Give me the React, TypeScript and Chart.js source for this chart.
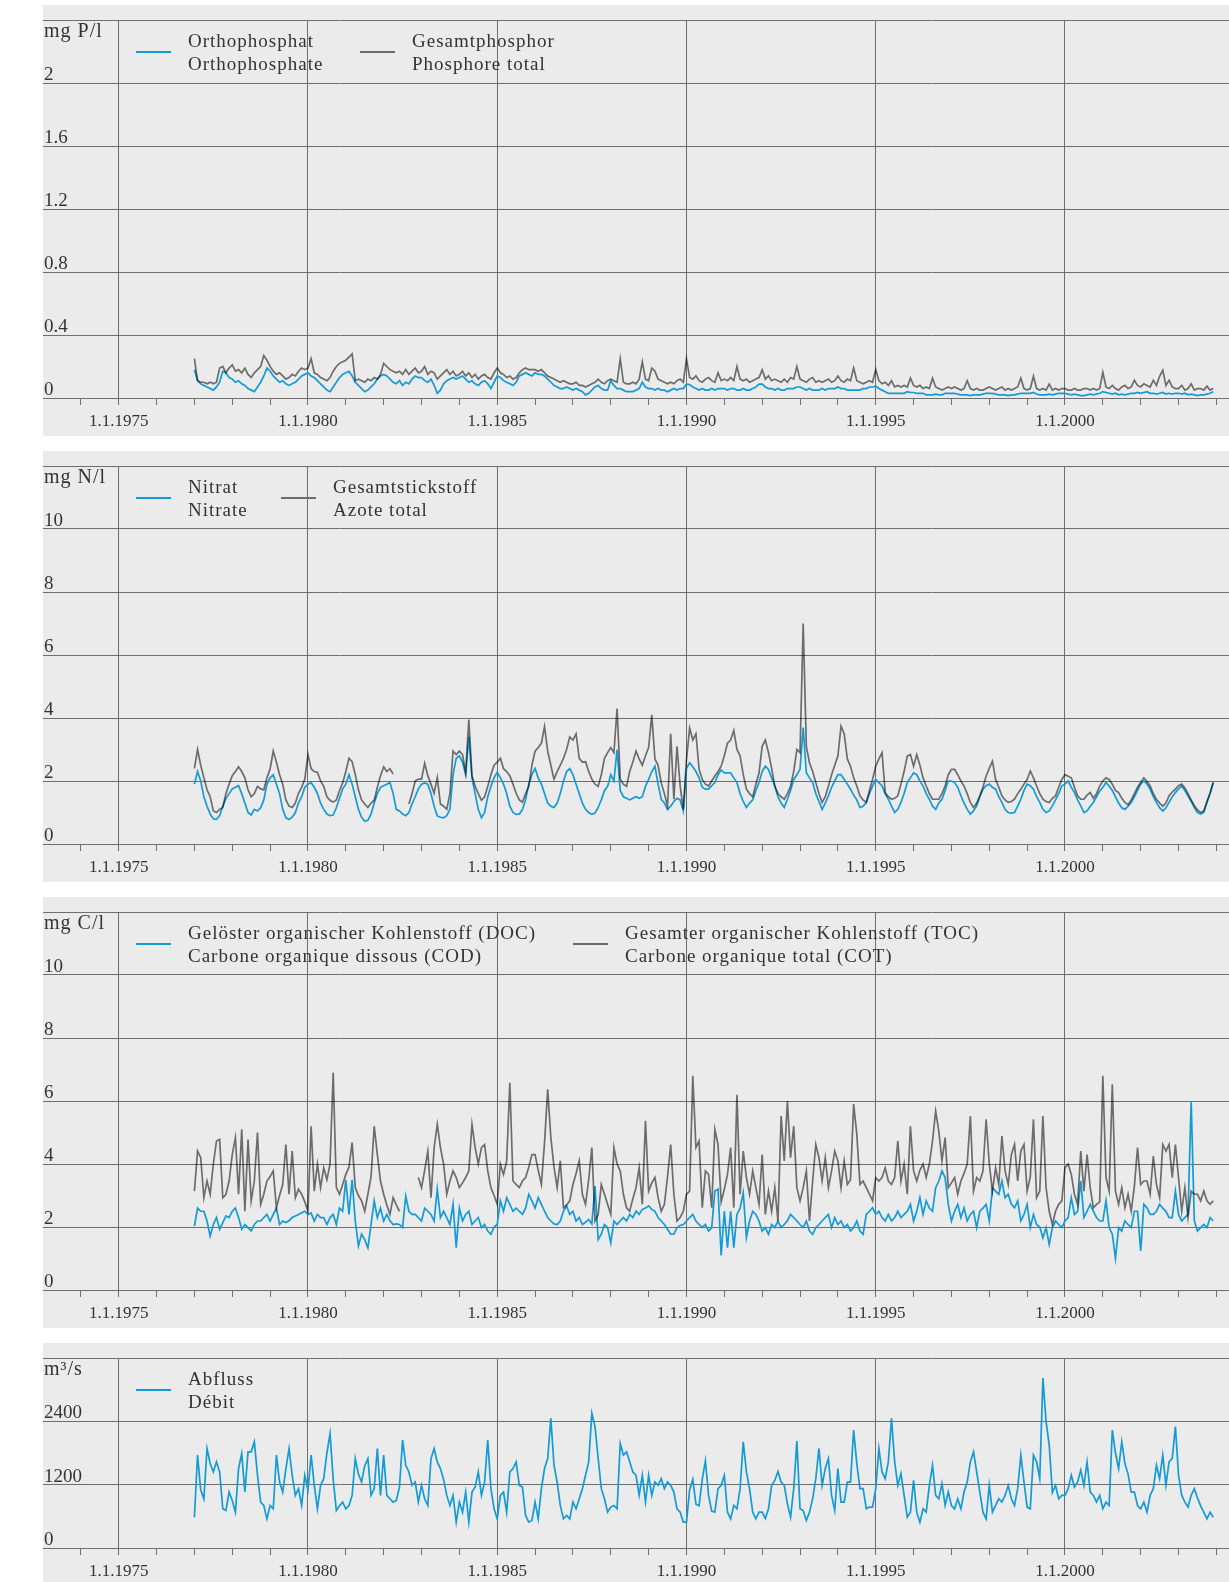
import React, { useEffect, useRef } from "react";
import { Chart, registerables } from "chart.js";

Chart.register(...registerables);

// ---- time axis: monthly samples starting 1.1.1977 ----
const START_YEAR = 1977;
const SAMPLES_PER_YEAR = 12;
const X_MIN = 1973;
const X_MAX = 2004.333;
const YEAR_LABELS = [1975, 1980, 1985, 1990, 1995, 2000];

// ---- Panel 1: phosphorus, mg P/l ----
const ORTHOPHOSPHATE = [
  0.18, 0.11, 0.09, 0.08, 0.07, 0.06, 0.05, 0.07, 0.10, 0.17, 0.16, 0.13, // 1977
  0.12, 0.10, 0.11, 0.09, 0.08, 0.06, 0.05, 0.04, 0.07, 0.10, 0.14, 0.19, // 1978
  0.17, 0.14, 0.12, 0.10, 0.11, 0.09, 0.08, 0.09, 0.10, 0.12, 0.14, 0.15, // 1979
  0.16, 0.14, 0.13, 0.11, 0.09, 0.07, 0.05, 0.04, 0.07, 0.10, 0.13, 0.15, // 1980
  0.16, 0.17, 0.14, 0.10, 0.08, 0.06, 0.04, 0.05, 0.07, 0.09, 0.12, 0.14, // 1981
  0.15, 0.14, 0.12, 0.10, 0.09, 0.11, 0.08, 0.10, 0.09, 0.12, 0.14, 0.13, // 1982
  0.13, 0.11, 0.10, 0.12, 0.08, 0.03, 0.05, 0.09, 0.11, 0.12, 0.13, 0.12, // 1983
  0.13, 0.14, 0.12, 0.10, 0.11, 0.09, 0.08, 0.10, 0.11, 0.09, 0.06, 0.10, // 1984
  0.14, 0.13, 0.11, 0.10, 0.09, 0.08, 0.10, 0.14, 0.15, 0.16, 0.15, 0.14, // 1985
  0.16, 0.15, 0.15, 0.14, 0.12, 0.10, 0.08, 0.07, 0.06, 0.06, 0.07, 0.06, // 1986
  0.05, 0.06, 0.05, 0.04, 0.02, 0.03, 0.05, 0.07, 0.08, 0.06, 0.05, 0.05, // 1987
  0.11, 0.08, 0.06, 0.06, 0.05, 0.04, 0.04, 0.04, 0.05, 0.06, 0.10, 0.07, // 1988
  0.06, 0.06, 0.05, 0.06, 0.05, 0.05, 0.04, 0.05, 0.06, 0.05, 0.06, 0.06, // 1989
  0.088, 0.085, 0.07, 0.06, 0.05, 0.06, 0.05, 0.05, 0.06, 0.05, 0.06, 0.06, // 1990
  0.06, 0.05, 0.06, 0.06, 0.05, 0.05, 0.06, 0.05, 0.05, 0.06, 0.07, 0.088, // 1991
  0.088, 0.07, 0.06, 0.06, 0.05, 0.06, 0.05, 0.05, 0.06, 0.06, 0.06, 0.07, // 1992
  0.07, 0.06, 0.05, 0.06, 0.05, 0.05, 0.05, 0.06, 0.05, 0.06, 0.06, 0.06, // 1993
  0.07, 0.06, 0.06, 0.05, 0.05, 0.05, 0.05, 0.05, 0.06, 0.06, 0.07, 0.07, // 1994
  0.075, 0.06, 0.05, 0.04, 0.03, 0.03, 0.03, 0.03, 0.03, 0.03, 0.04, 0.035, // 1995
  0.035, 0.03, 0.03, 0.03, 0.02, 0.02, 0.02, 0.025, 0.02, 0.02, 0.03, 0.03, // 1996
  0.03, 0.03, 0.025, 0.02, 0.02, 0.02, 0.015, 0.02, 0.02, 0.02, 0.025, 0.03, // 1997
  0.03, 0.03, 0.025, 0.02, 0.02, 0.02, 0.015, 0.02, 0.02, 0.025, 0.03, 0.03, // 1998
  0.03, 0.03, 0.035, 0.025, 0.02, 0.02, 0.02, 0.025, 0.02, 0.025, 0.03, 0.03, // 1999
  0.03, 0.025, 0.02, 0.025, 0.02, 0.015, 0.015, 0.02, 0.025, 0.02, 0.025, 0.03, // 2000
  0.04, 0.035, 0.03, 0.025, 0.03, 0.02, 0.025, 0.02, 0.025, 0.03, 0.03, 0.035, // 2001
  0.03, 0.035, 0.04, 0.03, 0.03, 0.025, 0.03, 0.035, 0.025, 0.03, 0.025, 0.03, // 2002
  0.03, 0.025, 0.03, 0.02, 0.025, 0.02, 0.015, 0.02, 0.02, 0.025, 0.03, 0.04, // 2003
];

const TOTAL_PHOSPHORUS = [
  0.25, 0.11, 0.10, 0.10, 0.09, 0.10, 0.09, 0.10, 0.19, 0.20, 0.16, 0.19, // 1977
  0.21, 0.17, 0.18, 0.16, 0.19, 0.15, 0.13, 0.16, 0.18, 0.20, 0.27, 0.24, // 1978
  0.20, 0.17, 0.15, 0.16, 0.14, 0.12, 0.13, 0.15, 0.14, 0.17, 0.19, 0.18, // 1979
  0.19, 0.25, 0.16, 0.15, 0.13, 0.12, 0.11, 0.13, 0.17, 0.20, 0.22, 0.23, // 1980
  0.24, 0.26, 0.28, 0.11, 0.12, 0.11, 0.10, 0.12, 0.11, 0.13, 0.12, 0.15, // 1981
  0.22, 0.20, 0.18, 0.17, 0.16, 0.17, 0.15, 0.18, 0.15, 0.17, 0.19, 0.16, // 1982
  0.17, 0.20, 0.15, 0.17, 0.16, 0.12, 0.14, 0.16, 0.18, 0.15, 0.17, 0.14, // 1983
  0.15, 0.17, 0.14, 0.16, 0.13, 0.15, 0.12, 0.14, 0.15, 0.13, 0.12, 0.16, // 1984
  0.19, 0.16, 0.15, 0.13, 0.14, 0.12, 0.13, 0.16, 0.18, 0.19, 0.18, 0.18, // 1985
  0.18, 0.17, 0.18, 0.16, 0.14, 0.13, 0.12, 0.11, 0.10, 0.11, 0.10, 0.09, // 1986
  0.09, 0.10, 0.08, 0.08, 0.07, 0.08, 0.09, 0.10, 0.12, 0.10, 0.09, 0.11, // 1987
  0.12, 0.11, 0.10, 0.25, 0.10, 0.09, 0.09, 0.10, 0.09, 0.12, 0.23, 0.12, // 1988
  0.11, 0.19, 0.17, 0.12, 0.11, 0.10, 0.09, 0.10, 0.09, 0.11, 0.12, 0.10, // 1989
  0.25, 0.13, 0.12, 0.14, 0.11, 0.10, 0.12, 0.13, 0.11, 0.10, 0.16, 0.11, // 1990
  0.12, 0.11, 0.13, 0.11, 0.20, 0.12, 0.11, 0.12, 0.10, 0.11, 0.12, 0.13, // 1991
  0.18, 0.12, 0.14, 0.11, 0.12, 0.11, 0.10, 0.12, 0.10, 0.13, 0.12, 0.20, // 1992
  0.12, 0.11, 0.10, 0.12, 0.13, 0.10, 0.11, 0.10, 0.11, 0.12, 0.10, 0.11, // 1993
  0.14, 0.11, 0.10, 0.12, 0.11, 0.19, 0.11, 0.10, 0.09, 0.10, 0.11, 0.10, // 1994
  0.18, 0.11, 0.09, 0.10, 0.08, 0.11, 0.07, 0.08, 0.07, 0.08, 0.07, 0.126, // 1995
  0.08, 0.07, 0.08, 0.06, 0.07, 0.06, 0.126, 0.07, 0.06, 0.05, 0.06, 0.07, // 1996
  0.06, 0.07, 0.06, 0.05, 0.06, 0.11, 0.06, 0.05, 0.06, 0.05, 0.05, 0.06, // 1997
  0.07, 0.06, 0.05, 0.06, 0.07, 0.05, 0.06, 0.05, 0.06, 0.07, 0.126, 0.06, // 1998
  0.05, 0.06, 0.138, 0.06, 0.05, 0.06, 0.05, 0.088, 0.05, 0.06, 0.05, 0.06, // 1999
  0.06, 0.05, 0.05, 0.06, 0.05, 0.05, 0.06, 0.06, 0.05, 0.06, 0.05, 0.06, // 2000
  0.163, 0.07, 0.06, 0.08, 0.06, 0.05, 0.07, 0.08, 0.06, 0.07, 0.113, 0.08, // 2001
  0.07, 0.09, 0.08, 0.07, 0.113, 0.08, 0.138, 0.176, 0.08, 0.113, 0.07, 0.06, // 2002
  0.06, 0.08, 0.05, 0.06, 0.09, 0.05, 0.06, 0.06, 0.05, 0.075, 0.05, 0.06, // 2003
];

// ---- Panel 2: nitrogen, mg N/l ----
const NITRATE = [
  1.9, 2.3, 2.0, 1.5, 1.2, 0.95, 0.8, 0.78, 0.9, 1.2, 1.45, 1.6, // 1977
  1.75, 1.8, 1.85, 1.6, 1.3, 1.0, 0.92, 1.1, 1.05, 1.15, 1.4, 1.9, // 1978
  2.1, 2.2, 1.9, 1.6, 1.1, 0.83, 0.78, 0.85, 1.0, 1.3, 1.5, 1.8, // 1979
  1.9, 1.95, 1.8, 1.6, 1.3, 1.1, 0.95, 0.9, 0.92, 1.15, 1.45, 1.75, // 1980
  1.9, 2.2, 1.9, 1.5, 1.1, 0.85, 0.72, 0.75, 0.95, 1.3, 1.6, 1.8, // 1981
  1.85, 1.9, 1.95, 1.6, 1.1, 1.05, 0.95, 0.9, 1.0, 1.27, 1.5, 1.75, // 1982
  1.9, 1.94, 1.9, 1.6, 1.2, 0.89, 0.85, 0.83, 0.9, 1.1, 2.2, 2.72, // 1983
  2.8, 2.6, 2.2, 3.4, 2.1, 1.6, 1.1, 0.83, 1.0, 1.5, 1.83, 2.1, // 1984
  2.28, 2.1, 1.9, 1.6, 1.2, 1.0, 0.94, 0.95, 1.1, 1.4, 1.9, 2.2, // 1985
  2.4, 2.1, 1.9, 1.6, 1.3, 1.2, 1.16, 1.3, 1.6, 2.0, 2.3, 2.39, // 1986
  2.2, 1.9, 1.6, 1.3, 1.1, 1.0, 0.94, 0.98, 1.16, 1.4, 1.7, 1.83, // 1987
  2.2, 2.0, 3.0, 1.7, 1.5, 1.45, 1.4, 1.45, 1.5, 1.45, 1.5, 1.83, // 1988
  2.05, 2.3, 2.47, 1.9, 1.42, 1.3, 1.1, 1.2, 1.35, 1.45, 1.4, 1.05, // 1989
  2.4, 2.58, 2.45, 2.3, 2.1, 1.8, 1.74, 1.74, 1.85, 1.95, 2.2, 2.35, // 1990
  2.26, 2.26, 2.26, 2.1, 1.95, 1.6, 1.35, 1.16, 1.3, 1.4, 1.7, 1.95, // 1991
  2.3, 2.47, 2.37, 2.1, 1.84, 1.5, 1.3, 1.16, 1.42, 1.7, 2.05, 2.2, // 1992
  2.37, 3.7, 2.26, 2.1, 1.95, 1.6, 1.35, 1.1, 1.3, 1.53, 1.8, 2.0, // 1993
  2.2, 2.2, 2.05, 1.9, 1.74, 1.55, 1.4, 1.16, 1.2, 1.32, 1.6, 1.84, // 1994
  2.05, 1.95, 1.84, 1.6, 1.42, 1.2, 1.0, 1.1, 1.32, 1.6, 1.95, 2.1, // 1995
  2.26, 2.2, 2.0, 1.84, 1.6, 1.42, 1.2, 1.1, 1.3, 1.42, 1.7, 2.0, // 1996
  2.0, 1.95, 1.8, 1.53, 1.3, 1.1, 0.95, 1.05, 1.21, 1.5, 1.74, 1.85, // 1997
  1.9, 1.8, 1.74, 1.5, 1.32, 1.1, 1.0, 0.98, 1.0, 1.2, 1.42, 1.7, // 1998
  1.9, 1.85, 1.74, 1.5, 1.32, 1.1, 1.0, 1.05, 1.21, 1.4, 1.6, 1.84, // 1999
  1.9, 2.0, 1.8, 1.63, 1.4, 1.21, 1.0, 1.05, 1.2, 1.32, 1.5, 1.68, // 2000
  1.8, 1.95, 1.84, 1.7, 1.5, 1.3, 1.15, 1.1, 1.2, 1.32, 1.5, 1.7, // 2001
  1.9, 2.0, 1.9, 1.74, 1.5, 1.32, 1.15, 1.05, 1.15, 1.32, 1.5, 1.63, // 2002
  1.75, 1.84, 1.7, 1.53, 1.35, 1.16, 1.0, 0.95, 1.0, 1.32, 1.6, 1.95, // 2003
];

const TOTAL_NITROGEN = [
  2.4, 3.0, 2.5, 2.1, 1.72, 1.5, 1.05, 1.0, 1.1, 1.16, 1.6, 1.9, // 1977
  2.17, 2.3, 2.45, 2.3, 2.1, 1.72, 1.5, 1.6, 1.83, 1.75, 1.72, 2.1, // 1978
  2.39, 2.95, 2.6, 2.2, 1.9, 1.4, 1.2, 1.16, 1.3, 1.61, 1.8, 2.06, // 1979
  2.84, 2.39, 2.3, 2.28, 2.0, 1.83, 1.5, 1.39, 1.33, 1.4, 1.7, 1.94, // 1980
  2.3, 2.72, 2.61, 2.2, 1.72, 1.4, 1.27, 1.16, 1.3, 1.39, 1.8, 2.17, // 1981
  2.45, 2.3, 2.39, 2.22, null, null, null, null, 1.27, 1.6, 2.0, 2.06, // 1982
  2.06, 2.56, 2.17, 1.9, 1.61, 2.11, 1.27, 1.2, 1.1, 1.6, 2.95, 2.84, // 1983
  2.95, 2.84, 2.28, 3.95, 2.17, 1.83, 1.6, 1.39, 1.5, 1.83, 2.2, 2.5, // 1984
  2.6, 2.72, 2.39, 2.3, 2.17, 1.9, 1.61, 1.4, 1.33, 1.6, 1.83, 2.5, // 1985
  2.95, 3.06, 3.2, 3.73, 2.95, 2.5, 2.06, 2.3, 2.5, 2.72, 3.0, 3.4, // 1986
  3.3, 3.5, 2.72, 2.6, 2.61, 2.3, 2.06, 1.9, 1.83, 2.2, 2.72, 2.9, // 1987
  3.06, 2.9, 4.3, 2.06, 1.9, 1.83, 2.3, 2.6, 2.95, 2.7, 2.5, 2.8, // 1988
  3.06, 4.1, 2.7, 2.5, 1.94, 1.6, 1.2, 3.5, 1.42, 3.1, 1.83, 1.1, // 1989
  2.68, 3.68, 3.3, 3.5, 2.37, 2.05, 1.9, 1.84, 2.0, 2.16, 2.3, 2.47, // 1990
  2.8, 3.2, 3.3, 3.6, 3.0, 2.8, 2.2, 1.74, 1.6, 1.5, 1.9, 2.26, // 1991
  3.1, 3.3, 2.9, 2.4, 1.84, 1.6, 1.5, 1.42, 1.6, 1.84, 2.3, 3.0, // 1992
  2.9, 7.0, 3.1, 2.58, 2.3, 1.95, 1.6, 1.32, 1.5, 1.84, 2.2, 2.5, // 1993
  2.79, 3.74, 3.5, 2.7, 2.47, 2.1, 1.84, 1.53, 1.4, 1.32, 1.7, 2.05, // 1994
  2.47, 2.7, 2.9, 1.63, 1.5, 1.42, 1.45, 1.53, 1.9, 2.3, 2.79, 2.84, // 1995
  2.47, 2.84, 2.5, 2.1, 1.84, 1.6, 1.42, 1.42, 1.42, 1.6, 1.84, 2.2, // 1996
  2.37, 2.37, 2.2, 2.0, 1.84, 1.6, 1.32, 1.16, 1.3, 1.53, 1.8, 2.16, // 1997
  2.4, 2.63, 2.05, 1.8, 1.53, 1.4, 1.32, 1.35, 1.42, 1.6, 1.74, 1.9, // 1998
  2.05, 2.32, 2.1, 1.84, 1.6, 1.42, 1.35, 1.32, 1.45, 1.53, 1.8, 2.05, // 1999
  2.2, 2.15, 2.1, 1.8, 1.53, 1.42, 1.42, 1.55, 1.63, 1.45, 1.6, 1.84, // 2000
  2.0, 2.1, 2.05, 1.9, 1.7, 1.63, 1.45, 1.32, 1.25, 1.4, 1.6, 1.8, // 2001
  1.95, 2.1, 1.98, 1.84, 1.6, 1.42, 1.3, 1.2, 1.3, 1.53, 1.65, 1.74, // 2002
  1.85, 1.9, 1.78, 1.6, 1.4, 1.22, 1.08, 1.0, 1.05, 1.35, 1.62, 1.95, // 2003
];

// ---- Panel 3: organic carbon, mg C/l ----
const DOC = [
  2.03, 2.6, 2.5, 2.5, 2.19, 1.71, 2.08, 2.3, 1.93, 2.14, 2.35, 2.3, // 1977
  2.5, 2.6, 2.3, 1.93, 2.08, 1.98, 1.87, 2.08, 2.19, 2.19, 2.3, 2.4, // 1978
  2.19, 2.4, 2.6, 2.08, 2.19, 2.14, 2.2, 2.3, 2.35, 2.4, 2.45, 2.5, // 1979
  2.4, 2.45, 2.19, 2.4, 2.3, 2.3, 2.08, 2.3, 2.4, 2.08, 2.6, 2.5, // 1980
  3.5, 2.4, 3.5, 2.19, 1.4, 1.77, 1.6, 1.34, 2.08, 2.83, 2.3, 2.6, // 1981
  2.19, 2.4, 2.2, 2.08, 2.1, 2.08, 1.98, 2.98, 2.5, 2.4, 2.4, 2.3, // 1982
  2.19, 2.6, 2.5, 2.4, 2.19, 3.2, 2.3, 2.5, 2.3, 2.08, 2.72, 1.34, // 1983
  2.6, 2.19, 2.4, 2.5, 2.08, 2.19, 2.3, 1.98, 2.08, 1.87, 1.77, 2.0, // 1984
  2.08, 2.83, 2.5, 2.93, 2.72, 2.5, 2.6, 2.5, 2.4, 2.6, 3.04, 2.83, // 1985
  2.6, 2.93, 2.72, 2.5, 2.3, 2.19, 2.1, 2.08, 2.19, 2.5, 2.67, 2.4, // 1986
  2.5, 2.19, 2.3, 2.08, 2.15, 2.24, 2.1, 3.3, 1.6, 1.77, 2.08, 1.98, // 1987
  1.5, 2.19, 2.08, 2.2, 2.3, 2.19, 2.4, 2.3, 2.5, 2.4, 2.56, 2.6, // 1988
  2.67, 2.56, 2.5, 2.3, 2.19, 2.08, 1.93, 1.77, 1.77, 1.98, 2.05, 2.08, // 1989
  2.19, 2.3, 2.4, 2.19, 2.08, 1.98, 2.08, 1.87, 1.98, 3.14, 3.2, 1.1, // 1990
  2.5, 1.34, 2.5, 1.34, 2.4, 2.6, 3.09, 1.66, 2.19, 2.5, 2.4, 2.19, // 1991
  1.87, 1.98, 1.77, 2.08, 1.98, 2.19, 1.98, 2.08, 2.2, 2.4, 2.3, 2.19, // 1992
  2.08, 1.98, 2.19, 1.87, 1.77, 1.98, 2.08, 2.19, 2.3, 2.4, 1.98, 2.3, // 1993
  2.08, 2.19, 1.98, 2.08, 1.87, 1.98, 2.19, 1.87, 1.77, 2.4, 2.5, 2.61, // 1994
  2.4, 2.5, 2.3, 2.19, 2.4, 2.19, 2.3, 2.5, 2.3, 2.4, 2.5, 2.72, // 1995
  2.19, 2.5, 2.93, 2.4, 2.83, 2.6, 2.5, 3.25, 3.46, 3.78, 3.57, 2.72, // 1996
  2.19, 2.5, 2.72, 2.3, 2.61, 2.19, 2.4, 2.5, 1.98, 2.5, 2.6, 2.72, // 1997
  2.19, 3.25, 3.14, 3.04, 3.46, 2.93, 3.04, 2.72, 2.61, 2.83, 2.19, 2.4, // 1998
  2.72, 1.98, 2.4, 2.08, 2.0, 1.66, 1.98, 1.45, 1.98, 2.19, 2.08, 1.98, // 1999
  2.19, 2.3, 2.93, 2.4, 2.5, 3.46, 2.3, 2.5, 2.72, 2.5, 2.3, 2.19, // 2000
  2.19, 2.83, 1.98, 1.77, 1.0, 1.98, 1.87, 2.19, 2.08, 1.98, 2.5, 2.5, // 2001
  1.24, 2.72, 2.61, 2.4, 2.4, 2.5, 2.72, 2.6, 2.5, 2.3, 2.3, 3.14, // 2002
  2.4, 2.19, 2.3, 2.4, 6.0, 2.2, 1.87, 1.98, 2.08, 1.98, 2.3, 2.19, // 2003
];

const TOC = [
  3.14, 4.41, 4.2, 2.93, 3.46, 3.04, 4.0, 4.73, 4.78, 2.93, 3.04, 3.46, // 1977
  4.3, 4.84, 3.04, 5.1, 2.5, 4.78, 2.83, 3.46, 5.0, 2.72, 3.04, 3.46, // 1978
  3.6, 3.78, 2.61, 3.0, 3.35, 4.62, 3.04, 4.41, 2.93, 3.2, 3.04, 2.8, // 1979
  2.5, 5.2, 3.14, 4.0, 3.25, 3.88, 3.5, 4.0, 6.9, 3.25, 3.04, 3.35, // 1980
  3.67, 3.9, 4.68, 3.25, 3.0, 2.83, 2.5, 3.04, 3.6, 5.2, 4.3, 3.46, // 1981
  3.04, 2.7, 2.4, 2.93, 2.7, 2.5, null, null, null, null, null, 3.57, // 1982
  3.25, 3.8, 4.41, 2.93, 4.52, 5.26, 4.52, 4.0, 3.04, 3.46, 3.78, 3.57, // 1983
  3.25, 3.4, 3.57, 3.78, 5.26, 4.52, 4.0, 4.52, 4.62, 3.78, 3.25, 3.0, // 1984
  2.72, 4.0, 3.67, 4.1, 6.58, 3.46, 3.35, 3.25, 3.46, 3.57, 3.9, 4.3, // 1985
  4.3, 3.8, 3.35, 4.68, 6.37, 4.84, 3.9, 3.25, 4.1, 2.61, 2.7, 2.83, // 1986
  3.35, 3.7, 4.1, 3.04, 2.72, 3.5, 4.52, 2.19, 2.4, 3.35, 3.04, 2.72, // 1987
  2.4, 4.52, 4.0, 3.78, 3.04, 2.61, 2.5, 2.9, 3.25, 3.88, 2.72, 5.37, // 1988
  3.14, 3.4, 3.57, 2.93, 2.5, 2.72, 3.6, 4.62, 3.04, 2.19, 2.3, 2.5, // 1989
  3.04, 3.14, 6.8, 4.52, 4.73, 2.61, 3.78, 3.67, 2.61, 5.1, 4.62, 2.8, // 1990
  3.2, 3.67, 4.52, 2.61, 6.2, 3.04, 4.41, 3.57, 3.04, 3.78, 3.25, 2.72, // 1991
  4.3, 2.4, 3.14, 2.5, 3.25, 2.19, 5.52, 4.1, 6.0, 4.2, 5.2, 3.25, // 1992
  2.83, 3.25, 3.78, 2.19, 3.46, 4.62, 4.2, 3.46, 4.2, 3.25, 3.78, 4.41, // 1993
  4.1, 3.25, 4.1, 3.35, 3.5, 5.9, 4.94, 3.35, 3.46, 3.25, 3.04, 2.83, // 1994
  3.57, 3.46, 3.57, 3.88, 3.46, 3.35, 3.57, 4.73, 3.46, 4.0, 3.04, 5.2, // 1995
  3.78, 3.46, 3.8, 4.0, 3.57, 4.0, 4.73, 5.68, 5.04, 4.1, 4.84, 3.25, // 1996
  3.4, 3.57, 3.04, 3.46, 3.7, 4.0, 5.52, 3.14, 3.57, 3.46, 3.78, 5.42, // 1997
  4.0, 3.14, 3.88, 3.35, 4.89, 3.78, 3.35, 4.3, 4.62, 3.46, 4.41, 4.62, // 1998
  3.14, 3.6, 5.42, 2.93, 3.14, 5.52, 3.25, 2.5, 2.08, 2.5, 2.72, 2.83, // 1999
  3.88, 4.0, 3.67, 3.04, 2.72, 4.41, 3.14, 4.3, 3.25, 2.61, 2.72, 2.8, // 2000
  6.8, 3.57, 3.14, 6.53, 3.14, 2.72, 3.25, 2.61, 3.04, 2.5, 3.3, 4.52, // 2001
  3.35, 3.46, 3.46, 3.04, 4.25, 3.35, 2.93, 4.62, 4.41, 4.62, 3.57, 4.62, // 2002
  3.57, 2.5, 3.25, 2.3, 3.14, 3.04, 3.04, 2.83, 3.14, 2.83, 2.72, 2.83, // 2003
];

// ---- Panel 4: discharge, m3/s ----
const DISCHARGE = [
  584, 1759, 1100, 933, 1886, 1600, 1441, 1632, 1441, 743, 711, 1060, // 1977
  900, 679, 1505, 1790, 1060, 1822, 1822, 2013, 1378, 870, 806, 552, // 1978
  806, 743, 1759, 1250, 1060, 1500, 1886, 1378, 997, 1124, 806, 1378, // 1979
  1100, 1759, 1187, 743, 1187, 1314, 1800, 2172, 1300, 711, 800, 870, // 1980
  743, 806, 997, 1695, 1400, 1250, 1560, 1695, 997, 1124, 1886, 997, // 1981
  1759, 997, 933, 870, 902, 1150, 2045, 1568, 1441, 1187, 1250, 870, // 1982
  1187, 933, 806, 1695, 1886, 1632, 1505, 1300, 997, 806, 997, 489, // 1983
  870, 679, 1060, 489, 1060, 1155, 1441, 997, 1250, 2045, 1124, 743, // 1984
  552, 997, 1060, 679, 1441, 1505, 1632, 1187, 1155, 616, 489, 521, // 1985
  870, 552, 1124, 1505, 1695, 2457, 1568, 1250, 806, 552, 616, 552, // 1986
  870, 743, 933, 1124, 1378, 1632, 2553, 2300, 1700, 1124, 933, 679, // 1987
  775, 806, 743, 1981, 1759, 1822, 1632, 1441, 1378, 997, 1378, 870, // 1988
  1378, 997, 1250, 1187, 1314, 1124, 1250, 1187, 1060, 743, 679, 489, // 1989
  489, 1100, 1300, 830, 800, 1300, 1650, 997, 700, 680, 1124, 1187, // 1990
  1378, 679, 552, 806, 743, 1124, 2013, 1441, 1124, 679, 552, 679, // 1991
  679, 560, 743, 1187, 1280, 1450, 1250, 1187, 838, 584, 1124, 2025, // 1992
  743, 711, 521, 679, 933, 1314, 1886, 1187, 1505, 1695, 997, 711, // 1993
  1505, 870, 870, 1250, 1250, 2235, 1600, 1124, 1124, 743, 775, 775, // 1994
  1124, 1886, 1441, 1314, 1632, 2457, 1632, 1187, 1410, 997, 584, 679, // 1995
  1283, 679, 489, 743, 679, 1187, 1568, 997, 933, 1219, 806, 1060, // 1996
  806, 743, 933, 743, 1060, 1250, 1632, 1822, 1441, 1060, 679, 552, // 1997
  1187, 679, 806, 933, 870, 997, 1187, 933, 806, 1124, 1759, 1250, // 1998
  775, 743, 1759, 1632, 1314, 3219, 2400, 1949, 1050, 1187, 933, 997, // 1999
  997, 1124, 1378, 1155, 1250, 1473, 1187, 1632, 1060, 997, 870, 997, // 2000
  743, 870, 806, 2235, 1800, 1505, 2013, 1600, 1400, 1060, 1060, 806, // 2001
  743, 870, 679, 997, 1124, 1568, 1314, 1759, 1187, 1632, 1700, 2299, // 2002
  1378, 1000, 870, 775, 997, 1124, 950, 800, 680, 552, 679, 584, // 2003
];

// ---- styling ----
const BLUE = "#129bd6";
const GRAY = "#6c6c6c";
const GRID = "#6e6e6e";
const PANEL_BG = "#ebebeb";
const TEXT = "#333333";
const FONT = "'Liberation Serif', 'Times New Roman', serif";
const CANVAS_W = 1186;
const PANEL_LEFT = 43;

type Series = { values: (number | null)[]; color: string; multiply?: boolean };
type LegendItem = { left: number; lines: [string, string]; color: string };
type PanelDef = {
  top: number;
  boxHeight: number;
  canvasHeight: number;
  axisHeight: number;
  yMax: number;
  yStep: number;
  unit: string;
  legend: LegendItem[];
  series: Series[];
};

const PANELS: PanelDef[] = [
  {
    top: 5, boxHeight: 431, canvasHeight: 431, axisHeight: 38, yMax: 2.4, yStep: 0.4, unit: "mg P/l",
    legend: [
      { left: 136, lines: ["Orthophosphat", "Orthophosphate"], color: BLUE },
      { left: 360, lines: ["Gesamtphosphor", "Phosphore total"], color: GRAY },
    ],
    series: [
      { values: ORTHOPHOSPHATE, color: BLUE },
      { values: TOTAL_PHOSPHORUS, color: GRAY, multiply: true },
    ],
  },
  {
    top: 451, boxHeight: 431, canvasHeight: 431, axisHeight: 38, yMax: 12, yStep: 2, unit: "mg N/l",
    legend: [
      { left: 136, lines: ["Nitrat", "Nitrate"], color: BLUE },
      { left: 281, lines: ["Gesamtstickstoff", "Azote total"], color: GRAY },
    ],
    series: [
      { values: NITRATE, color: BLUE },
      { values: TOTAL_NITROGEN, color: GRAY, multiply: true },
    ],
  },
  {
    top: 897, boxHeight: 431, canvasHeight: 431, axisHeight: 38, yMax: 12, yStep: 2, unit: "mg C/l",
    legend: [
      { left: 136, lines: ["Gelöster organischer Kohlenstoff (DOC)", "Carbone organique dissous (COD)"], color: BLUE },
      { left: 573, lines: ["Gesamter organischer Kohlenstoff (TOC)", "Carbone organique total (COT)"], color: GRAY },
    ],
    series: [
      { values: DOC, color: BLUE },
      { values: TOC, color: GRAY, multiply: true },
    ],
  },
  {
    top: 1343, boxHeight: 239, canvasHeight: 239, axisHeight: 34, yMax: 3600, yStep: 1200, unit: "m³/s",
    legend: [{ left: 136, lines: ["Abfluss", "Débit"], color: BLUE }],
    series: [{ values: DISCHARGE, color: BLUE }],
  },
];

const multiplyPlugin = {
  id: "multiplyBlend",
  beforeDatasetDraw(chart: any, args: any) {
    const ds: any = chart.data.datasets[args.index];
    if (ds.multiply) {
      chart.ctx.save();
      chart.ctx.globalCompositeOperation = "multiply";
    }
  },
  afterDatasetDraw(chart: any, args: any) {
    const ds: any = chart.data.datasets[args.index];
    if (ds.multiply) chart.ctx.restore();
  },
};

function Panel({ def }: { def: PanelDef }) {
  const ref = useRef<HTMLCanvasElement | null>(null);

  useEffect(() => {
    const canvas = ref.current;
    if (!canvas) return;
    const chart = new Chart(canvas, {
      type: "line",
      data: {
        datasets: def.series.map((s) => ({
          data: s.values.map((v, i) => ({ x: START_YEAR + i / SAMPLES_PER_YEAR, y: v })),
          borderColor: s.color,
          borderWidth: 1.7,
          pointRadius: 0,
          tension: 0,
          spanGaps: false,
          order: s.multiply ? 0 : 1,
          multiply: !!s.multiply,
        })) as any,
      },
      options: {
        animation: false,
        responsive: false,
        maintainAspectRatio: false,
        events: [],
        layout: { padding: { top: 15, left: 0, right: 0, bottom: 0 } },
        plugins: { legend: { display: false }, tooltip: { enabled: false } },
        scales: {
          x: {
            type: "linear",
            min: X_MIN,
            max: X_MAX,
            afterFit: (s: any) => {
              s.height = def.axisHeight;
              s.paddingLeft = 0;
              s.paddingRight = 0;
            },
            ticks: {
              stepSize: 1,
              autoSkip: false,
              maxRotation: 0,
              minRotation: 0,
              includeBounds: false,
              maxTicksLimit: 100,
              padding: 6,
              color: TEXT,
              font: { family: FONT, size: 17 },
              callback: (v: any) => (YEAR_LABELS.includes(Number(v)) ? `1.1.${v}` : ""),
            },
            grid: {
              color: (c: any) => (c.tick && YEAR_LABELS.includes(c.tick.value) ? GRID : "rgba(0,0,0,0)"),
              tickColor: (c: any) => (c.tick && c.tick.value === X_MIN ? "rgba(0,0,0,0)" : GRID),
              tickLength: 7,
              lineWidth: 1,
              drawTicks: true,
            },
            border: { display: true, color: GRID, width: 1 },
          },
          y: {
            min: 0,
            max: def.yMax,
            afterFit: (s: any) => {
              s.width = 0;
              s.paddingTop = 0;
              s.paddingBottom = 0;
            },
            ticks: {
              stepSize: def.yStep,
              mirror: true,
              padding: 1,
              labelOffset: -8,
              color: TEXT,
              font: { family: FONT, size: 19 },
              callback: (v: any) =>
                Number(v) >= def.yMax - 1e-9 ? "" : String(Math.round(Number(v) * 100) / 100),
            },
            grid: { color: GRID, lineWidth: 1, drawTicks: false },
            border: { display: false },
          },
        },
      } as any,
      plugins: [multiplyPlugin],
    });
    return () => chart.destroy();
  }, [def]);

  const textStyle: React.CSSProperties = {
    position: "absolute",
    fontFamily: FONT,
    fontSize: 19,
    letterSpacing: "1px",
    lineHeight: "23px",
    color: TEXT,
    whiteSpace: "nowrap",
  };

  return (
    <div
      style={{
        position: "absolute",
        left: PANEL_LEFT,
        top: def.top,
        width: CANVAS_W,
        height: def.boxHeight,
        background: PANEL_BG,
        overflow: "hidden",
      }}
    >
      <canvas
        ref={ref}
        width={CANVAS_W}
        height={def.canvasHeight}
        style={{ position: "absolute", left: 0, top: 0, width: CANVAS_W, height: def.canvasHeight, display: "block" }}
      />
      <div style={{ ...textStyle, left: 1, top: 14, fontSize: 20 }}>{def.unit}</div>
      {def.legend.map((item, k) => (
        <React.Fragment key={k}>
          <div
            style={{
              position: "absolute",
              left: item.left - PANEL_LEFT,
              top: 46,
              width: 35,
              height: 2,
              background: item.color,
            }}
          />
          <div style={{ ...textStyle, left: item.left - PANEL_LEFT + 52, top: 24 }}>
            {item.lines[0]}
            <br />
            {item.lines[1]}
          </div>
        </React.Fragment>
      ))}
    </div>
  );
}

export default function App() {
  return (
    <>
      <style>{"html,body{margin:0;padding:0;overflow:hidden;background:#fff}"}</style>
      <div
        style={{
          position: "fixed",
          left: 0,
          top: 0,
          width: 1229,
          height: 1582,
          background: "#ffffff",
          overflow: "hidden",
        }}
      >
        {PANELS.map((p, i) => (
          <Panel key={i} def={p} />
        ))}
      </div>
    </>
  );
}
